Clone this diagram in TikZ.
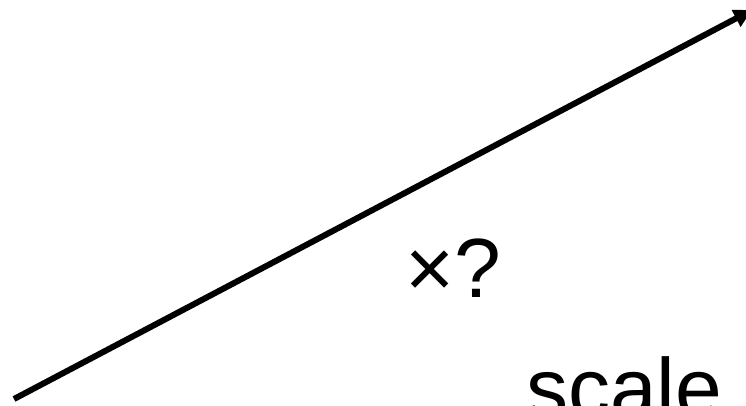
\documentclass[tikz,border=0pt]{standalone}
\usepackage{fontspec}
\setmainfont{Liberation Sans}
\usetikzlibrary{arrows.meta}
\tikzset{
  scalearrow/.style={
    -{Triangle[length=18pt,width=18pt]},
    line width=6pt
  },
  biglabel/.style={
    font=\fontsize{84}{84}\selectfont,
    inner sep=0pt,
    anchor=base west
  }
}
\begin{document}
\begin{tikzpicture}[x=1pt,y=-1pt]
\useasboundingbox (0,0) rectangle (746,406);
\coordinate (tail) at (14,399);
\coordinate (head) at (752,10);
\draw[scalearrow] (tail) -- (head);
\node[biglabel] (factor) at (405,297) {×?};
\node[biglabel] (word) at (526,417) {scale};
\end{tikzpicture}
\end{document}
